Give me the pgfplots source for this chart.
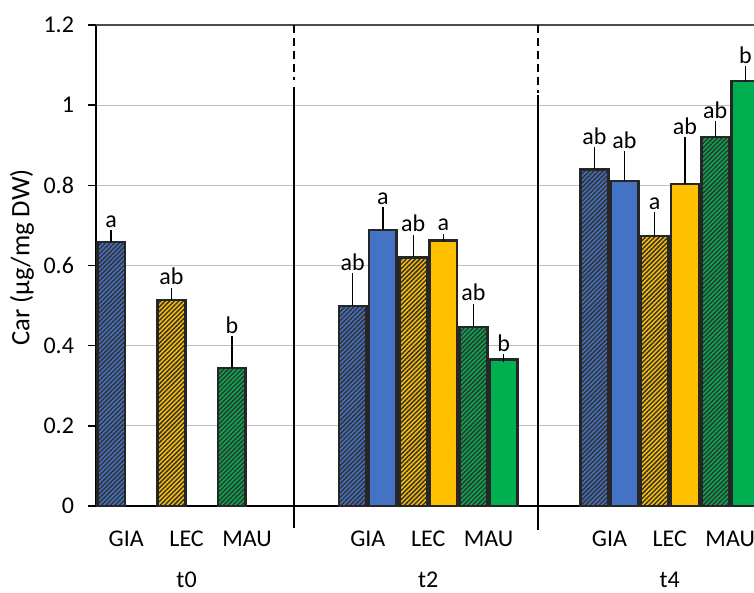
\documentclass[border=0pt]{standalone}
\usepackage{fontspec}
\setmainfont{Carlito}
\usepackage{pgfplots}
\usepackage{pgfplotstable}
\pgfplotsset{compat=1.18}
\usetikzlibrary{patterns.meta}
\definecolor{cblue}{HTML}{4472C4}
\definecolor{cyel}{HTML}{FFC000}
\definecolor{cgreen}{HTML}{00B050}
\definecolor{bord}{HTML}{262626}
\newcommand{\tf}{\fontsize{12}{14}\selectfont}

\pgfplotstableread{
x y e
0.25 0.659 0.020
4.25 0.499 0.073
8.25 0.840 0.046
}\hGIA
\pgfplotstableread{
x y e
1.25 0.514 0.021
5.25 0.620 0.048
9.25 0.674 0.050
}\hLEC
\pgfplotstableread{
x y e
2.25 0.344 0.070
6.25 0.447 0.049
10.25 0.921 0.030
}\hMAU
\pgfplotstableread{
x y e
4.75 0.689 0.048
8.75 0.811 0.065
}\sGIA
\pgfplotstableread{
x y e
5.75 0.662 0.008
9.75 0.803 0.108
}\sLEC
\pgfplotstableread{
x y e
6.75 0.366 0.003
10.75 1.060 0.028
}\sMAU
\pgfplotstableread{
x t l
0.25 0.679 a
1.25 0.535 ab
2.25 0.414 b
4.25 0.572 ab
4.75 0.737 a
5.25 0.668 ab
5.75 0.670 a
6.25 0.496 ab
6.75 0.369 b
8.25 0.886 ab
8.75 0.876 ab
9.25 0.724 a
9.75 0.911 ab
10.25 0.951 ab
10.75 1.088 b
}\labs

\pgfplotsset{
  mybar/.style={ybar, bar width=0.46, draw=bord, line width=1.3pt,
    /pgfplots/error bars/y dir=plus, /pgfplots/error bars/y explicit,
    /pgfplots/error bars/error bar style={line width=0.6pt, draw=black, solid},
    /pgfplots/error bars/error mark options={mark size=1.8pt, line width=0.6pt, draw=black}},
  hatch/.style={fill=#1, postaction={pattern={Lines[angle=45,distance=1.6pt,line width=0.75pt]}, pattern color=black!80}},
}

\begin{document}
\begin{tikzpicture}
\useasboundingbox (-48pt,-43.5pt) rectangle (329pt,253pt);
\begin{axis}[
  scale only axis, width=329pt, height=240.5pt,
  xmin=0, xmax=10.894, ymin=0, ymax=1.2,
  clip=false,
  axis x line*=bottom, axis y line*=left,
  axis line style={black, line width=0.8pt},
  tick align=outside, major tick length=4pt,
  tick style={black, line width=0.8pt},
  xtick style={draw=none},
  ytick={0,0.2,0.4,0.6,0.8,1,1.2},
  xtick={0.5,1.5,2.5,4.5,5.5,6.5,8.5,9.5,10.5},
  xticklabels={GIA,LEC,MAU,GIA,LEC,MAU,GIA,LEC,MAU},
  tick label style={font=\tf},
  /pgf/number format/assume math mode=true,
  yticklabel style={xshift=-3.5pt},
  xticklabel style={anchor=base, yshift=-16.3pt},
  ymajorgrids, major grid style={draw=black!25, line width=0.6pt},
  ylabel={Car (µg/mg DW)},
  every axis y label/.style={at={(axis description cs:-0.1125,0.517)}, rotate=90, anchor=center, font=\fontsize{13.3}{15}\selectfont},
]
\addplot[mybar, hatch=cblue] table[x=x, y=y, y error=e] {\hGIA};
\addplot[mybar, hatch=cyel] table[x=x, y=y, y error=e] {\hLEC};
\addplot[mybar, hatch=cgreen] table[x=x, y=y, y error=e] {\hMAU};
\addplot[mybar, fill=cblue] table[x=x, y=y, y error=e] {\sGIA};
\addplot[mybar, fill=cyel] table[x=x, y=y, y error=e] {\sLEC};
\addplot[mybar, fill=cgreen] table[x=x, y=y, y error=e] {\sMAU};
\addplot[draw=none, mark=none, nodes near coords, point meta=explicit symbolic,
  nodes near coords style={anchor=south, inner sep=0pt, yshift=3pt, font=\tf, text=black}]
  table[x=x, y=t, meta=l] {\labs};
\draw[black!70, line width=0.9pt] (axis cs:0,1.2) -- (axis cs:10.894,1.2);
\draw[black, line width=1pt, dash pattern=on 4pt off 2.5pt] (axis cs:3.286,1.2) -- (axis cs:3.286,1.063);
\draw[black, line width=1pt] (axis cs:3.286,1.045) -- (axis cs:3.286,-0.055);
\draw[black, line width=1pt, dash pattern=on 4pt off 2.5pt] (axis cs:7.318,1.2) -- (axis cs:7.318,1.03);
\draw[black, line width=1pt] (axis cs:7.318,1.025) -- (axis cs:7.318,-0.06);
\node[anchor=base, font=\tf] at (axis cs:1.5,-0.203) {t0};
\node[anchor=base, font=\tf] at (axis cs:5.5,-0.203) {t2};
\node[anchor=base, font=\tf] at (axis cs:9.5,-0.203) {t4};
\end{axis}
\end{tikzpicture}
\end{document}
